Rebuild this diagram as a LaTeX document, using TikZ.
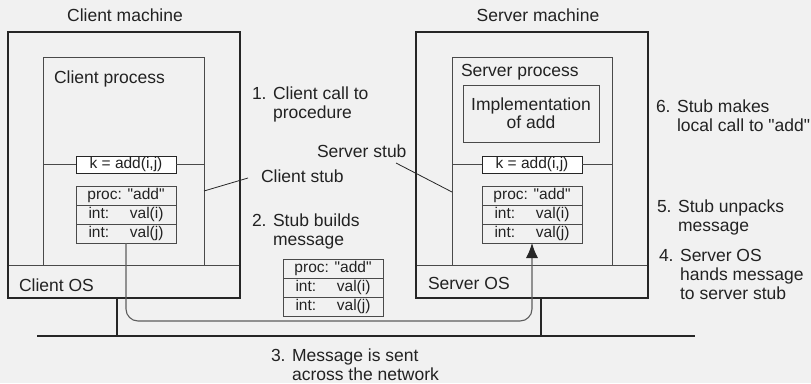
\documentclass[tikz,border=0pt]{standalone}
\usepackage{fontspec}
\setmainfont{Liberation Sans}[Ligatures=TeXOff]
\usetikzlibrary{arrows.meta,calc}
\definecolor{bg}{HTML}{F1F1F1}
\definecolor{ink}{HTML}{262626}
\definecolor{ink2}{HTML}{4A4A4A}
\definecolor{wire}{HTML}{5E5E5E}
\definecolor{txt}{HTML}{222222}
\newcommand\lblfont{\fontsize{17.5bp}{19bp}\selectfont}
\newcommand\boxfont{\fontsize{15.5bp}{17bp}\selectfont}
\newcommand\rowtext[2]{\makebox[75bp]{#1\hfill #2}}
\begin{document}
\begin{tikzpicture}[x=1bp,y=-1bp,
  outerbox/.style={draw=ink, line width=2bp, inner sep=0pt, outer sep=0pt},
  innerbox/.style={draw=ink2, line width=1bp, inner sep=0pt, outer sep=0pt},
  kbox/.style={draw=ink, fill=white, line width=1bp, inner sep=0pt, outer sep=0pt,
               minimum width=100bp, minimum height=17bp, font=\boxfont, text=txt},
  rowbox/.style={draw=ink2, line width=1bp, inner sep=0pt, outer sep=0pt,
               minimum width=100bp, minimum height=19bp, font=\boxfont, text=txt},
  lbl/.style={anchor=base west, inner sep=0pt, outer sep=0pt, font=\lblfont, text=txt},
  thin/.style={draw=ink, line width=0.8bp},
  net/.style={draw=ink, line width=2.6bp},
  msgwire/.style={draw=wire, line width=1.1bp, rounded corners=12bp}
]
\fill[bg] (0,0) rectangle (811,383);
\useasboundingbox (0,0) rectangle (811,383);

% ---------- Client machine ----------
\node[innerbox, minimum width=160bp, minimum height=208bp] (cp) at (124,161) {};
\node[innerbox, minimum width=232bp, minimum height=33bp] (cos) at (124,281.5) {};
\node[outerbox, minimum width=232bp, minimum height=266bp] (cm) at (124,165) {};
\node[font=\lblfont, text=txt, anchor=base, inner sep=0pt] (cmt) at (125,21) {Client machine};
\node[lbl] (cpt) at (54,83) {Client process};
\node[lbl] (cost) at (19,291) {Client OS};
\node[kbox] (ck) at (126,164.5) {k = add(i,j)};
\draw[innerbox] (cp.west |- ck.west) -- (ck.west);
\draw[innerbox] (ck.east) -- (cp.east |- ck.east);
\node[rowbox] (cr1) at (126,195.5) {proc: "add"};
\node[rowbox] (cr2) at (126,214.5) {\rowtext{int:}{val(i)}};
\node[rowbox] (cr3) at (126,233.5) {\rowtext{int:}{val(j)}};

% ---------- Server machine ----------
\node[innerbox, minimum width=160bp, minimum height=208bp] (sp) at (532,161) {};
\node[innerbox, minimum width=232bp, minimum height=33bp] (sos) at (532,281.5) {};
\node[outerbox, minimum width=232bp, minimum height=266bp] (sm) at (532,165) {};
\node[font=\lblfont, text=txt, anchor=base, inner sep=0pt] (smt) at (538,21) {Server machine};
\node[lbl] (spt) at (461,76) {Server process};
\node[lbl] (sost) at (428,289) {Server OS};
\node[innerbox, minimum width=136bp, minimum height=57bp, font=\lblfont, text=txt,
      align=center] (impl) at (531,113.5) {Implementation\\[-1bp]of add};
\node[kbox] (sk) at (532,164.5) {k = add(i,j)};
\draw[innerbox] (sp.west |- sk.west) -- (sk.west);
\draw[innerbox] (sk.east) -- (sp.east |- sk.east);
\node[rowbox] (sr1) at (532,195.5) {proc: "add"};
\node[rowbox] (sr2) at (532,214.5) {\rowtext{int:}{val(i)}};
\node[rowbox] (sr3) at (532,233.5) {\rowtext{int:}{val(j)}};

% ---------- Message in transit ----------
\node[rowbox] (mr1) at (333,268.5) {proc: "add"};
\node[rowbox] (mr2) at (333,287.5) {\rowtext{int:}{val(i)}};
\node[rowbox] (mr3) at (333,306.5) {\rowtext{int:}{val(j)}};

% ---------- Network ----------
\coordinate (nw) at (37,336);
\coordinate (ne) at (695,336);
\draw[net] (nw) -- (ne);
\draw[net] (cm.south -| 117,0) -- (117,336);
\draw[net] (sm.south -| 541,0) -- (541,336);

% ---------- Message path ----------
\coordinate (pathlow) at (126,321);
\draw[msgwire, -{Latex[length=15bp,width=12bp,color=ink,fill=ink]}]
  (cr3.south) -- (pathlow) -- (pathlow -| sr3.south) -- (sr3.south);

% ---------- Stub labels ----------
\node[lbl] (cstub) at (261,182) {Client stub};
\coordinate (cstubend) at (248,178);
\draw[thin] (cp.east |- 0,191) -- (cstubend);
\node[lbl] (sstub) at (317,157) {Server stub};
\coordinate (sstubend) at (396,163);
\draw[thin] (sstubend) -- (sp.west |- 0,192);

% ---------- Step labels ----------
\node[lbl] (s1) at (252,99) {\begin{tabular}[t]{@{}l@{ }l@{}}1.&Client call to\\&procedure\end{tabular}};
\node[lbl] (s2) at (252,226) {\begin{tabular}[t]{@{}l@{ }l@{}}2.&Stub builds\\&message\end{tabular}};
\node[lbl] (s3) at (271,361) {\begin{tabular}[t]{@{}l@{ }l@{}}3.&Message is sent\\&across the network\end{tabular}};
\node[lbl] (s4) at (659,261) {\begin{tabular}[t]{@{}l@{ }l@{}}4.&Server OS\\&hands message\\&to server stub\end{tabular}};
\node[lbl] (s5) at (657,212) {\begin{tabular}[t]{@{}l@{ }l@{}}5.&Stub unpacks\\&message\end{tabular}};
\node[lbl] (s6) at (656,112) {\begin{tabular}[t]{@{}l@{ }l@{}}6.&Stub makes\\&local call to "add"\end{tabular}};
\end{tikzpicture}
\end{document}
